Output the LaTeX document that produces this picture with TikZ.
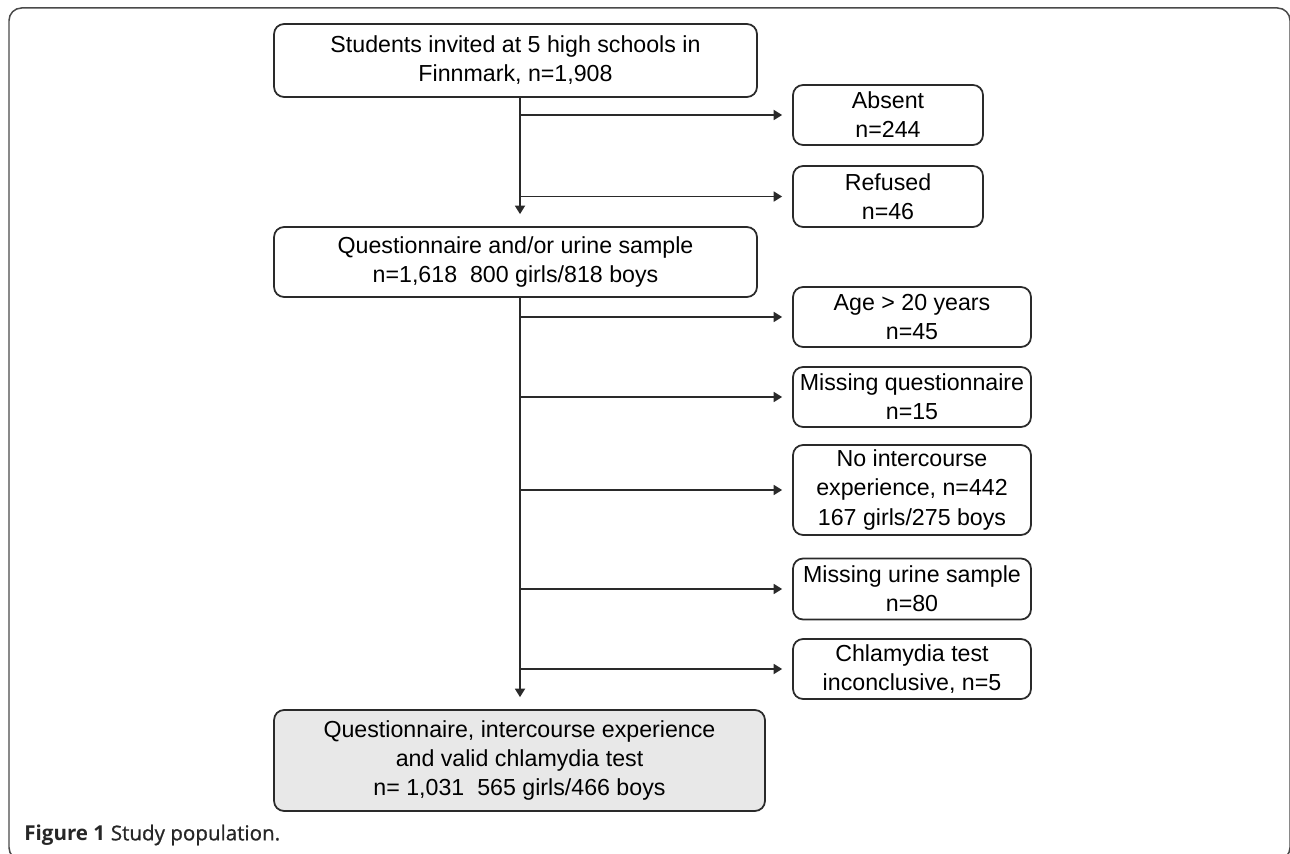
\documentclass[tikz,border=0pt]{standalone}
\usepackage{fontspec}
\setmainfont{Liberation Sans}
\newfontfamily\capfont{Open Sans}
\newfontfamily\capsemi[FakeBold=0.9]{Open Sans}
\usetikzlibrary{positioning}
\usetikzlibrary{arrows.meta}
\definecolor{linegray}{HTML}{2A2A2A}
\definecolor{framegray}{HTML}{4A4A4A}
\definecolor{boxfill}{HTML}{E8E8E8}

\tikzset{
  flowbox/.style={draw=linegray, line width=0.035cm, rounded corners=0.2cm, align=center, inner sep=0pt, text=black, font=\fontsize{13.2}{16.6}\selectfont},
  mainbox/.style={flowbox, minimum width=9.66cm},
  sidebox/.style={flowbox, minimum width=4.76cm, minimum height=1.2cm},
  narrowbox/.style={flowbox, minimum width=3.8cm, minimum height=1.2cm},
  flowline/.style={draw=linegray, line width=0.035cm},
  flowarrow/.style={flowline, -{Triangle[length=0.17cm,width=0.2cm]}, shorten >=0.2cm}
}

\begin{document}
\begin{tikzpicture}[x=0.02cm, y=-0.02cm]

\useasboundingbox (0,0) rectangle (1290,854);

% frame
\draw[framegray, line width=0.03cm, rounded corners=0.25cm] (9,8) rectangle (1290,860);

% main column
{
\node[mainbox, minimum height=1.46cm] (invited) at (515.5,60.5)
{Students invited at 5 high schools in\\Finnmark, n=1,908};

\node[mainbox, minimum height=1.4cm] (sample) at (515.5,262)
{Questionnaire and/or urine sample\\n=1,618~~800 girls/818 boys};

\node[mainbox, minimum width=9.82cm, minimum height=2.02cm, fill=boxfill] (valid) at (519.5,760.5)
{Questionnaire, intercourse experience\\and valid chlamydia test\\n= 1,031~~565 girls/466 boys};
}

% excluded
{
\node[narrowbox] (absent) at (888,115) {Absent\\n=244};
\node[narrowbox, minimum height=1.22cm] (refused) at (888,196.5) {Refused\\n=46};

\node[sidebox] (age) at (912,317) {Age > 20 years\\n=45};
\node[sidebox] (noquest) at (912,397) {Missing questionnaire\\n=15};
\node[sidebox, minimum height=1.8cm] (nosex) at (912,490)
{No intercourse\\experience, n=442\\167 girls/275 boys};
\node[sidebox, minimum height=1.22cm] (nourine) at (912,589) {Missing urine sample\\n=80};
\node[sidebox] (chlam) at (912,669) {Chlamydia test\\inconclusive, n=5};
}

% trunk
\coordinate (trunk) at (520,0);

\draw[flowarrow, shorten >=0.24cm] (invited.south -| trunk) -- (sample.north -| trunk);
\draw[flowarrow, shorten >=0.24cm] (sample.south -| trunk) -- (valid.north -| trunk);

% side arrows
\foreach \side in {absent,refused,age,noquest,nosex,nourine,chlam}
  \draw[flowarrow] (\side.west -| trunk) -- (\side.west);

% caption
\node[anchor=west, inner sep=0pt, text=black!85] (caption) at (24,835)
{\fontsize{11.7}{14}\selectfont{\capfont\bfseries Figure 1} {\capsemi Study population.}};

\end{tikzpicture}
\end{document}
